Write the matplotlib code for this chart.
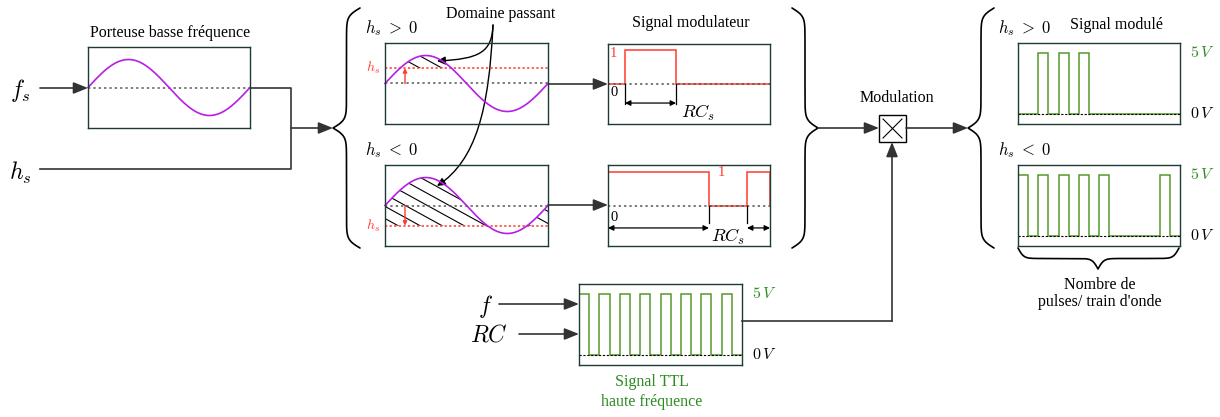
import numpy as np
import matplotlib.pyplot as plt
from matplotlib.patches import Polygon, Rectangle, FancyArrowPatch
from matplotlib.path import Path

plt.rcParams['mathtext.fontset'] = 'cm'
plt.rcParams['font.family'] = ['Liberation Serif', 'DejaVu Serif']

W, H = 1220, 417

t_sine = np.linspace(0, 2 * np.pi, 400)
hs_levels = [0.55, -0.72]              # seuil h_s rapporte a l'amplitude de la porteuse
mod_edges_pos = [0, 0.105, 0.42, 1]    # signal modulateur, h_s > 0
mod_vals_pos = [0, 1, 0]
mod_edges_neg = [0, 0.623, 0.858, 1]   # signal modulateur, h_s < 0
mod_vals_neg = [1, 0, 1]
ttl_vals = [1, 0] * 8
out_vals_pos = [0, 0, 1, 0, 1, 0, 1, 0, 0, 0, 0, 0, 0, 0, 0, 0]
out_vals_neg = [1, 0, 1, 0, 1, 0, 1, 0, 1, 0, 0, 0, 0, 0, 1, 0]

PURPLE = '#b61ee6'
RED = '#ff3b2f'
GREEN = '#55992c'
GREEN_TXT = '#2e8b22'
EDGE = '#1e3a36'
LINE = '#333333'

fig = plt.figure(figsize=(W / 100, H / 100), dpi=100)
ax = fig.add_axes([0, 0, 1, 1])
ax.set_xlim(0, W)
ax.set_ylim(H, 0)
ax.axis('off')


def box(x0, y0, x1, y1):
    a = fig.add_axes([x0 / W, 1 - y1 / H, (x1 - x0) / W, (y1 - y0) / H])
    a.set_facecolor('none')
    a.set_xticks([])
    a.set_yticks([])
    for sp in a.spines.values():
        sp.set_color(EDGE)
        sp.set_linewidth(1)
    return a


def sig(z):
    return 1 / (1 + np.exp(-z))


def brace(s0, s_tip, s1, c_base, c_tip, vertical=True, beta=0.25):
    s_a = np.linspace(s0, s_tip, 300)
    s_b = np.linspace(s_tip, s1, 300)
    f_a = sig(beta * (s_a - s0)) + sig(beta * (s_a - s_tip))
    f_b = sig(beta * (s_b - s_tip)) + sig(beta * (s_b - s1))
    c_a = c_base + (c_tip - c_base) * (f_a - 0.5)
    c_b = c_tip + (c_base - c_tip) * (f_b - 0.5)
    s = np.r_[s_a, s_b]
    c = np.r_[c_a, c_b]
    if vertical:
        ax.plot(c, s, color='k', lw=1.2, solid_capstyle='round')
    else:
        ax.plot(s, c, color='k', lw=1.2, solid_capstyle='round')


def arrow(p0, p1, ms=16):
    ax.annotate('', xy=p1, xytext=p0,
                arrowprops=dict(arrowstyle='-|>,head_length=0.55,head_width=0.22',
                                color=LINE, lw=1.2, mutation_scale=ms,
                                shrinkA=0, shrinkB=0))


def sine_box(x0, y0, x1, y1, h=None):
    a = box(x0, y0, x1, y1)
    amp = 28
    a.set_xlim(0, 2 * np.pi)
    a.set_ylim(-(y1 - y0) / 2 / amp, (y1 - y0) / 2 / amp)
    if h is not None:
        y_top = np.maximum(np.sin(t_sine), h)
        verts = np.column_stack([np.r_[t_sine, t_sine[::-1]],
                                 np.r_[y_top, np.full_like(t_sine, h)]])
        poly = Polygon(verts, closed=True, fc='none', ec='none')
        a.add_patch(poly)
        px_x = (x1 - x0) / (2 * np.pi)
        k = 0.55 * px_x / amp
        step = 22 * 0.55 / amp
        t0 = 35 / px_x
        for b in h + k * t0 + step * np.arange(-12, 14):
            ln, = a.plot(t_sine, b - k * t_sine, color='k', lw=0.8)
            ln.set_clip_path(poly)
        a.axhline(h, color=RED, ls=(0, (1.5, 1.5)), lw=1.1)
        ta = 20 / px_x
        a.annotate('', xy=(ta, h), xytext=(ta, 0),
                   arrowprops=dict(arrowstyle='-|>', color=RED, lw=1,
                                   mutation_scale=6, shrinkA=0, shrinkB=0))
        a.text(-0.03, h, '$h_s$', transform=a.get_yaxis_transform(),
               ha='right', va='center', color=RED, fontsize=10, clip_on=False)
    a.axhline(0, color='#555555', ls=(0, (1.5, 2)), lw=1.1)
    a.plot(t_sine, np.sin(t_sine), color=PURPLE, lw=1.2, clip_on=False)
    return a


def mod_box(x0, y0, x1, y1, edges, vals):
    a = box(x0, y0, x1, y1)
    a.set_xlim(0, 1)
    a.set_ylim(-(y1 - y0) / 2 / 34, (y1 - y0) / 2 / 34)
    a.stairs(vals, edges, baseline=0, color=RED, lw=1.1)
    a.axhline(0, color='#555555', ls=(0, (1.5, 2)), lw=1.1)
    return a


def ttl_box(x0, y0, x1, y1, vals):
    a = box(x0, y0, x1, y1)
    a.set_xlim(0, 1)
    a.set_ylim(-10 / 61, 1 + 10 / 61)
    edges = np.linspace(0, 1, len(vals) + 1)
    a.stairs(vals, edges, baseline=0, color=GREEN, lw=1.1)
    a.axhline(0, color='k', ls=(0, (2, 1.5)), lw=0.8)
    a.text(1.06, 1, r'$5\,V$', transform=a.get_yaxis_transform(),
           ha='left', va='center', color=GREEN_TXT, fontsize=11.5)
    a.text(1.06, 0, r'$0\,V$', transform=a.get_yaxis_transform(),
           ha='left', va='center', color='k', fontsize=11.5)
    return a


# porteuse basse frequence
sine_box(88, 47, 250, 128)
ax.text(170, 33, 'Porteuse basse fréquence', ha='center', va='center', fontsize=11.5)
ax.text(20, 90, '$f_s$', ha='center', va='center', fontsize=17)
ax.text(20, 173, '$h_s$', ha='center', va='center', fontsize=17)
arrow((40, 88), (88, 88))
ax.plot([250, 291, 291, 40], [88, 88, 169, 169], color=LINE, lw=1.2)
arrow((291, 128), (333, 128))

# domaine passant
brace(8, 128, 248, 360, 333)
sine_box(385, 43, 548, 124, hs_levels[0])
sine_box(385, 165, 548, 246, hs_levels[1])
ax.text(391, 28, r'$h_s\;>\;0$', ha='center', va='center', fontsize=12)
ax.text(391, 150, r'$h_s\;<\;0$', ha='center', va='center', fontsize=12)
for verts in ([(493, 25), (492, 52), (480, 59), (437, 61)],
              [(493, 25), (489, 110), (476, 160), (437, 186)]):
    path = Path(verts, [Path.MOVETO, Path.CURVE4, Path.CURVE4, Path.CURVE4])
    ax.add_patch(FancyArrowPatch(path=path, arrowstyle='-|>', mutation_scale=12,
                                 color='k', lw=1))
ax.text(501, 14, 'Domaine passant', ha='center', va='center', fontsize=11.5)
arrow((548, 84), (608, 84))
arrow((548, 205), (608, 205))

# signal modulateur
a4 = mod_box(608, 44, 770, 124, mod_edges_pos, mod_vals_pos)
for e in mod_edges_pos[1:3]:
    a4.plot([e, e], [0, -0.58], color='k', lw=0.9)
a4.annotate('', xy=(mod_edges_pos[2], -0.56), xytext=(mod_edges_pos[1], -0.56),
            arrowprops=dict(arrowstyle='<|-|>', color='k', lw=0.9,
                            mutation_scale=8, shrinkA=0, shrinkB=0))
a4.text(0.035, 0.91, '1', color=RED, ha='center', va='center', fontsize=10.5)
a4.text(0.035, -0.26, '0', color='k', ha='center', va='center', fontsize=10.5)
a4.text(0.556, -0.85, '$RC_s$', ha='center', va='center', fontsize=13)
ax.text(691, 23, 'Signal modulateur', ha='center', va='center', fontsize=11.5)

a5 = mod_box(608, 165, 770, 246, mod_edges_neg, mod_vals_neg)
for e in mod_edges_neg[1:3]:
    a5.plot([e, e], [0, -0.5], color='k', lw=0.9)
for e0, e1 in ((mod_edges_neg[0], mod_edges_neg[1]), (mod_edges_neg[2], mod_edges_neg[3])):
    a5.annotate('', xy=(e1, -0.66), xytext=(e0, -0.66),
                arrowprops=dict(arrowstyle='<|-|>', color='k', lw=0.9,
                                mutation_scale=8, shrinkA=0, shrinkB=0))
a5.text(0.70, 0.97, '1', color=RED, ha='center', va='center', fontsize=10.5)
a5.text(0.035, -0.34, '0', color='k', ha='center', va='center', fontsize=10.5)
a5.text(0.74, -0.93, '$RC_s$', ha='center', va='center', fontsize=13)

# modulation
brace(8, 128, 248, 792, 818)
arrow((818, 128), (879, 128))
ax.add_patch(Rectangle((879, 115), 27, 27, fc='white', ec='k', lw=1))
ax.plot([883, 902], [119, 138], color='k', lw=0.8)
ax.plot([883, 902], [138, 119], color='k', lw=0.8)
ax.text(897, 98, 'Modulation', ha='center', va='center', fontsize=11.5)
arrow((906, 128), (968, 128))

# signal TTL haute frequence
ttl_box(579, 284, 742, 365, ttl_vals)
ax.text(485, 306, '$f$', ha='center', va='center', fontsize=17)
ax.text(489, 336, '$RC$', ha='center', va='center', fontsize=17)
arrow((499, 304), (579, 304))
arrow((519, 334), (579, 334))
ax.text(652, 382, 'Signal TTL', ha='center', va='center', fontsize=11.5, color=GREEN_TXT)
ax.text(652, 402, 'haute fréquence', ha='center', va='center', fontsize=11.5, color=GREEN_TXT)
ax.plot([742, 892], [321, 321], color=LINE, lw=1.2)
arrow((892, 321), (892, 142))

# signal module
brace(8, 128, 248, 994, 968)
ttl_box(1018, 43, 1180, 124, out_vals_pos)
ttl_box(1018, 165, 1180, 246, out_vals_neg)
ax.text(1024, 28, r'$h_s\;>\;0$', ha='center', va='center', fontsize=12)
ax.text(1024, 150, r'$h_s\;<\;0$', ha='center', va='center', fontsize=12)
ax.text(1116, 25, 'Signal modulé', ha='center', va='center', fontsize=11.5)
brace(1018, 1098, 1179, 248, 269, vertical=False, beta=0.35)
ax.text(1100, 285, 'Nombre de', ha='center', va='center', fontsize=11.5)
ax.text(1100, 302, "pulses/ train d'onde", ha='center', va='center', fontsize=11.5)

fig.savefig('out.png', dpi=100)
